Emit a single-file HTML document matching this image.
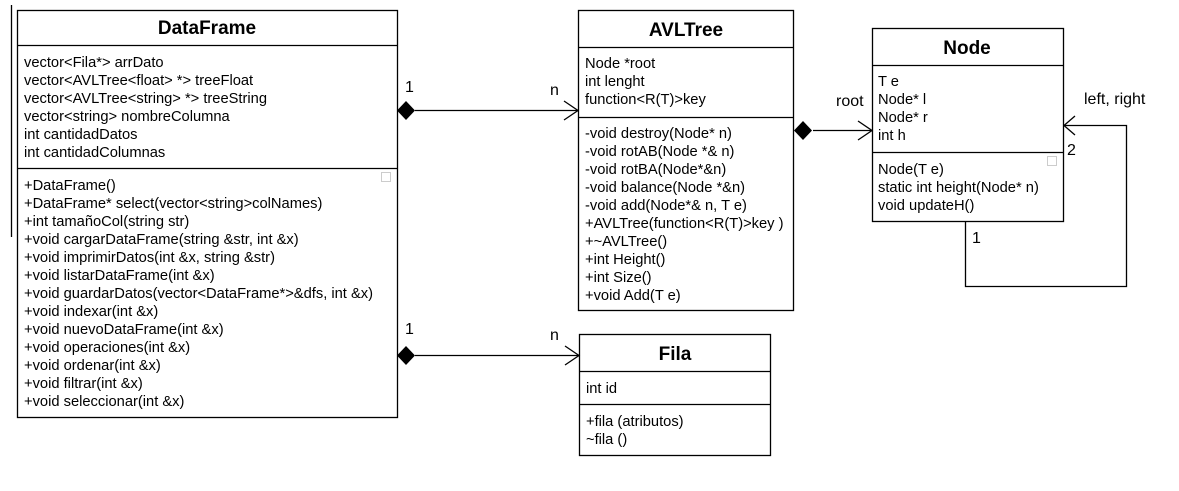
<!DOCTYPE html>
<html><head><meta charset="utf-8"><style>
html,body{margin:0;padding:0;background:#fff;}
svg{display:block;font-family:"Liberation Sans",sans-serif;}
.t{font-size:14.7px;fill:#000;}
.l{font-size:16px;fill:#000;}
.h{font-size:19px;font-weight:bold;fill:#000;}
</style></head><body>
<svg width="1179" height="491" viewBox="0 0 1179 491" xmlns="http://www.w3.org/2000/svg">
<rect width="1179" height="491" fill="#fff"/>
<g fill="none" stroke="#000" stroke-width="1.3">
<line x1="11.5" y1="5" x2="11.5" y2="237"/>
<rect x="17.5" y="10.5" width="380" height="407"/>
<line x1="17.5" y1="45.5" x2="397.5" y2="45.5"/>
<line x1="17.5" y1="168.5" x2="397.5" y2="168.5"/>
<rect x="578.5" y="10.5" width="215" height="300"/>
<line x1="578.5" y1="47.5" x2="793.5" y2="47.5"/>
<line x1="578.5" y1="117.5" x2="793.5" y2="117.5"/>
<rect x="872.5" y="28.5" width="191" height="193"/>
<line x1="872.5" y1="65.5" x2="1063.5" y2="65.5"/>
<line x1="872.5" y1="152.5" x2="1063.5" y2="152.5"/>
<rect x="579.5" y="334.5" width="191" height="121"/>
<line x1="579.5" y1="371.5" x2="770.5" y2="371.5"/>
<line x1="579.5" y1="404.5" x2="770.5" y2="404.5"/>
<line x1="415" y1="110.5" x2="578" y2="110.5"/>
<polyline points="564,101 578,110.5 564,120"/>
<line x1="415" y1="355.5" x2="579" y2="355.5"/>
<polyline points="565,346 579,355.5 565,365"/>
<line x1="813" y1="130.5" x2="872" y2="130.5"/>
<polyline points="858,121 872,130.5 858,140"/>
<polyline points="965.5,221 965.5,286.5 1126.5,286.5 1126.5,125.5 1064,125.5"/>
<polyline points="1075,116 1064,125.5 1075,135"/>
</g>
<g fill="#000">
<polygon points="397,110.5 406,101 415,110.5 406,120"/>
<polygon points="397,355.5 406,346 415,355.5 406,365"/>
<polygon points="794,130.5 803,121 812,130.5 803,140"/>
</g>
<g fill="none" stroke="#ccc">
<rect x="381.5" y="172.5" width="9" height="9"/>
<rect x="1047.5" y="156.5" width="9" height="9"/>
</g>
<text class="h" x="207" y="34" text-anchor="middle">DataFrame</text>
<text class="h" x="686" y="36" text-anchor="middle">AVLTree</text>
<text class="h" x="967" y="54" text-anchor="middle">Node</text>
<text class="h" x="675" y="360" text-anchor="middle">Fila</text>
<g class="t">
<text x="24" y="67">vector&lt;Fila*&gt; arrDato</text>
<text x="24" y="85">vector&lt;AVLTree&lt;float&gt; *&gt; treeFloat</text>
<text x="24" y="103">vector&lt;AVLTree&lt;string&gt; *&gt; treeString</text>
<text x="24" y="121">vector&lt;string&gt; nombreColumna</text>
<text x="24" y="139">int cantidadDatos</text>
<text x="24" y="157">int cantidadColumnas</text>
<text x="24" y="190">+DataFrame()</text>
<text x="24" y="208">+DataFrame* select(vector&lt;string&gt;colNames)</text>
<text x="24" y="226">+int tamañoCol(string str)</text>
<text x="24" y="244">+void cargarDataFrame(string &amp;str, int &amp;x)</text>
<text x="24" y="262">+void imprimirDatos(int &amp;x, string &amp;str)</text>
<text x="24" y="280">+void listarDataFrame(int &amp;x)</text>
<text x="24" y="298">+void guardarDatos(vector&lt;DataFrame*&gt;&amp;dfs, int &amp;x)</text>
<text x="24" y="316">+void indexar(int &amp;x)</text>
<text x="24" y="334">+void nuevoDataFrame(int &amp;x)</text>
<text x="24" y="352">+void operaciones(int &amp;x)</text>
<text x="24" y="370">+void ordenar(int &amp;x)</text>
<text x="24" y="388">+void filtrar(int &amp;x)</text>
<text x="24" y="406">+void seleccionar(int &amp;x)</text>

<text x="585" y="68">Node *root</text>
<text x="585" y="86">int lenght</text>
<text x="585" y="104">function&lt;R(T)&gt;key</text>
<text x="585" y="138">-void destroy(Node* n)</text>
<text x="585" y="156">-void rotAB(Node *&amp; n)</text>
<text x="585" y="174">-void rotBA(Node*&amp;n)</text>
<text x="585" y="192">-void balance(Node *&amp;n)</text>
<text x="585" y="210">-void add(Node*&amp; n, T e)</text>
<text x="585" y="228">+AVLTree(function&lt;R(T)&gt;key )</text>
<text x="585" y="246">+~AVLTree()</text>
<text x="585" y="264">+int Height()</text>
<text x="585" y="282">+int Size()</text>
<text x="585" y="300">+void Add(T e)</text>

<text x="878" y="86">T e</text>
<text x="878" y="104">Node* l</text>
<text x="878" y="122">Node* r</text>
<text x="878" y="140">int h</text>
<text x="878" y="174">Node(T e)</text>
<text x="878" y="192">static int height(Node* n)</text>
<text x="878" y="210">void updateH()</text>

<text x="586" y="393">int id</text>
<text x="586" y="426">+fila (atributos)</text>
<text x="586" y="444">~fila ()</text>
</g>
<g class="l">
<text x="405" y="92">1</text>
<text x="550" y="95">n</text>
<text x="405" y="334">1</text>
<text x="550" y="340">n</text>
<text x="836" y="106">root</text>
<text x="1084" y="104">left, right</text>
<text x="1067" y="155">2</text>
<text x="972" y="243">1</text>
</g>
</svg>
</body></html>
